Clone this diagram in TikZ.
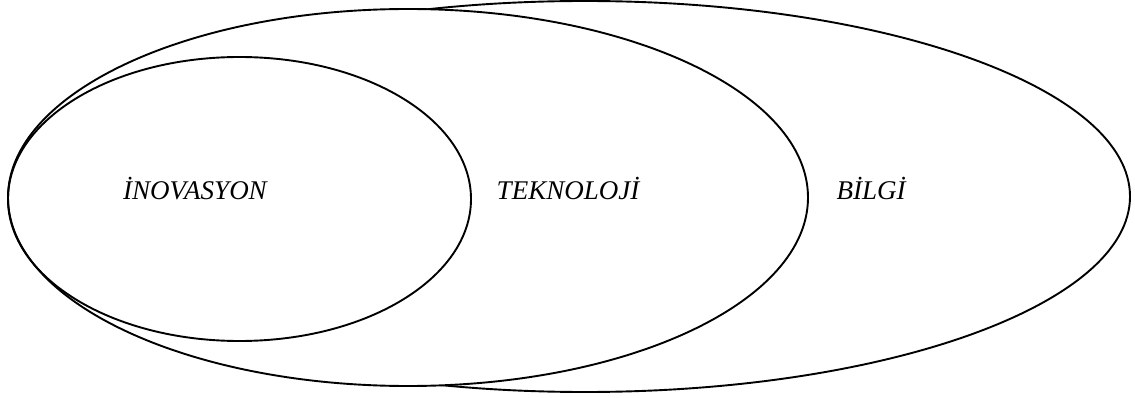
\documentclass[tikz,border=0pt]{standalone}
\usepackage{fontspec}
\setmainfont{Liberation Serif}
\usetikzlibrary{shapes.geometric}
\begin{document}
\begin{tikzpicture}[x=1pt,y=-1pt,
  ring/.style={ellipse,draw=black,line width=1.9pt,inner sep=0pt,outer sep=0pt},
  lbl/.style={font=\fontsize{27}{32}\selectfont\itshape,anchor=base,inner sep=0pt}]
\useasboundingbox (0,0) rectangle (1135,398);
\node[ring,minimum width=1090pt,minimum height=391pt] (bilgi) at (585,196.5) {};
\node[ring,fill=white,minimum width=800pt,minimum height=377pt] (teknoloji) at (408,197.5) {};
\node[ring,minimum width=463pt,minimum height=284pt] (inovasyon) at (239.5,199) {};
\node[lbl] (t1) at (195,200) {İNOVASYON};
\node[lbl] (t2) at (568,200) {TEKNOLOJİ};
\node[lbl] (t3) at (871,200) {BİLGİ};
\end{tikzpicture}
\end{document}
